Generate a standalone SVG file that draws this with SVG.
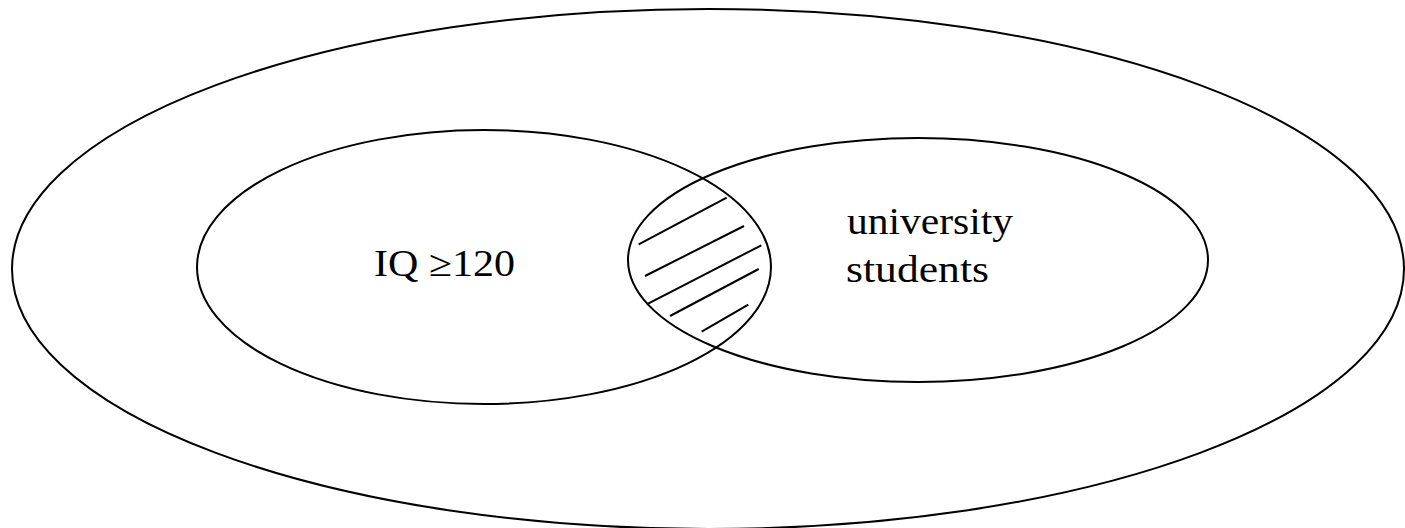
<svg xmlns="http://www.w3.org/2000/svg" width="1405" height="528" viewBox="0 0 1405 528">
<style>
.e{fill:none;stroke:#000;stroke-width:2}
.h{stroke:#000;stroke-width:2;stroke-linecap:butt}
.t{font-family:"Liberation Serif","Times New Roman",serif;font-size:37px;fill:#000}
</style>
<rect width="1405" height="528" fill="#fff"/>
<g id="universe"><ellipse class="e" cx="708" cy="269" rx="696" ry="260"/></g>
<g id="iq">
<ellipse class="e" cx="484" cy="267" rx="287" ry="137"/>
<text class="t" x="374" y="276" textLength="141" lengthAdjust="spacingAndGlyphs">IQ ≥120</text>
</g>
<g id="students">
<ellipse class="e" cx="918" cy="260" rx="290" ry="122"/>
<text class="t" x="847" y="234" textLength="166" lengthAdjust="spacingAndGlyphs">university</text>
<text class="t" x="846" y="282" textLength="143" lengthAdjust="spacingAndGlyphs">students</text>
</g>
<g id="hatch">
<line class="h" x1="638.7" y1="244.3" x2="726.7" y2="197.7"/>
<line class="h" x1="645" y1="276" x2="744" y2="226"/>
<line class="h" x1="646.7" y1="304.3" x2="761.3" y2="245.3"/>
<line class="h" x1="670" y1="316" x2="758.7" y2="269"/>
<line class="h" x1="701.7" y1="331.7" x2="748.3" y2="304.7"/>
</g>
</svg>
